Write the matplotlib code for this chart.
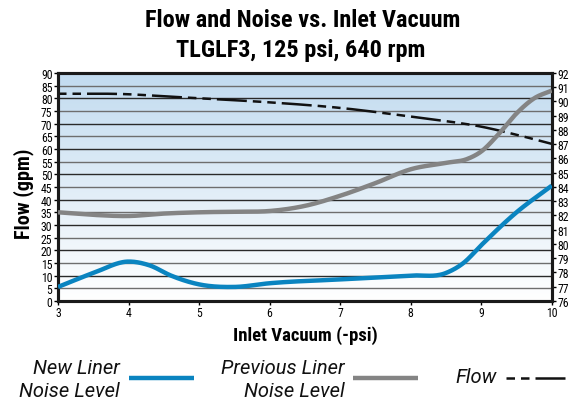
import numpy as np
import matplotlib
matplotlib.use("Agg")
import matplotlib.pyplot as plt
from matplotlib.lines import Line2D

# flow vs inlet vacuum (left axis, gpm)
flowVac = [3, 4, 4.5, 5, 6, 7, 8, 8.5, 9, 9.5, 10]
flowGpm = [81.8, 81.6, 80.8, 80.0, 78.4, 76.2, 72.8, 71.0, 68.8, 65.6, 62.0]

# noise vs inlet vacuum (right axis)
newVac = [3, 3.5, 4, 4.3, 4.6, 5, 5.5, 6, 7, 8, 8.5, 8.75, 9, 9.5, 10]
newNoise = [76.98, 77.96, 78.76, 78.49, 77.78, 77.16, 76.98, 77.24, 77.51, 77.78,
            77.96, 78.67, 79.91, 82.22, 84.09]

prevVac = [3, 3.5, 4, 4.5, 5, 5.5, 6, 6.5, 7, 7.5, 8, 8.5, 8.8, 9, 9.25, 9.5, 9.75, 10]
prevNoise = [82.22, 82.04, 81.96, 82.13, 82.22, 82.26, 82.31, 82.67, 83.38, 84.27,
             85.24, 85.69, 85.96, 86.49, 87.73, 89.16, 90.22, 90.76]

leftTicks = list(range(0, 91, 5))
rightTicks = list(range(76, 93))
xTicks = list(range(3, 11))

plt.rcParams['font.family'] = ['Roboto Condensed', 'DejaVu Sans']

BLUE = '#0a84c0'
GRAY = '#848484'
FLOW_DASH = (3.4, 2.4, 3.4, 2.4, 12, 2.4)
W, H = 579.0, 402.0


def smooth(xs, ys):
    # cubic hermite through the read points
    xs = np.asarray(xs, float)
    ys = np.asarray(ys, float)
    m = np.gradient(ys, xs)
    out_x = []
    out_y = []
    for i in range(len(xs) - 1):
        h = xs[i + 1] - xs[i]
        t = np.linspace(0, 1, 30, endpoint=False)
        h00 = 2 * t**3 - 3 * t**2 + 1
        h10 = t**3 - 2 * t**2 + t
        h01 = -2 * t**3 + 3 * t**2
        h11 = t**3 - t**2
        out_x.extend(xs[i] + t * h)
        out_y.extend(h00 * ys[i] + h10 * h * m[i] + h01 * ys[i + 1] + h11 * h * m[i + 1])
    out_x.append(xs[-1])
    out_y.append(ys[-1])
    return np.array(out_x), np.array(out_y)


fig = plt.figure(figsize=(5.79, 4.02), dpi=100)
ax = fig.add_axes([0.1002, 0.249, 0.8528, 0.567])
ax2 = ax.twinx()

# blue gradient background
grad = np.linspace(0, 1, 256).reshape(-1, 1, 1)
top = np.array([0.76, 0.86, 0.94])
bot = np.array([1.0, 1.0, 1.0])
img = bot + (top - bot) * grad
ax.imshow(img, extent=[3, 10, 0, 90], origin='lower', aspect='auto', zorder=0)

for v in leftTicks[1:-1]:
    c = '#2a2a2a' if v % 10 == 0 else '#6e6e6e'
    ax.axhline(v, color=c, linewidth=1.0, zorder=1)

ax.set_xlim(3, 10)
ax.set_ylim(0, 90)
ax2.set_ylim(76, 92)

fx, fy = smooth(flowVac, flowGpm)
ax.plot(fx, fy, color='#111111', linewidth=1.8, dashes=FLOW_DASH, zorder=3)

nx, ny = smooth(newVac, newNoise)
ax2.plot(nx, ny, color=BLUE, linewidth=3.2, solid_capstyle='butt', zorder=3)
px, py = smooth(prevVac, prevNoise)
ax2.plot(px, py, color=GRAY, linewidth=3.2, solid_capstyle='butt', zorder=3)

ax.set_xticks(xTicks)
ax.set_yticks(leftTicks)
ax2.set_yticks(rightTicks)
ax.tick_params(labelsize=8.5, length=3, width=1, pad=1)
ax2.tick_params(labelsize=8.5, length=3, width=1, pad=1)
for a in (ax, ax2):
    for s in a.spines.values():
        s.set_linewidth(2.2)
        s.set_color('#1a1a1a')

# axis titles
fig.text(24 / W, 1 - 194 / H, 'Flow (gpm)', rotation=90, ha='center', va='center',
         fontsize=14.5, fontweight='bold')
fig.text(305 / W, 1 - 341 / H, 'Inlet Vacuum (-psi)', ha='center', va='baseline',
         fontsize=13.5, fontweight='bold')
fig.text(303 / W, 1 - 27 / H, 'Flow and Noise vs. Inlet Vacuum', ha='center', va='baseline',
         fontsize=17.5, fontweight='bold')
fig.text(301 / W, 1 - 57 / H, 'TLGLF3, 125 psi, 640 rpm', ha='center', va='baseline',
         fontsize=17.5, fontweight='bold')

# legend drawn below the plot
legFont = dict(fontsize=14.5, style='italic', color='#111111', family=['Roboto', 'DejaVu Sans'])
fig.text(120 / W, 1 - 374 / H, 'New Liner', ha='right', va='baseline', **legFont)
fig.text(120 / W, 1 - 397 / H, 'Noise Level', ha='right', va='baseline', **legFont)
fig.text(345 / W, 1 - 374 / H, 'Previous Liner', ha='right', va='baseline', **legFont)
fig.text(345 / W, 1 - 397 / H, 'Noise Level', ha='right', va='baseline', **legFont)
fig.text(497 / W, 1 - 383 / H, 'Flow', ha='right', va='baseline', **legFont)

ly = 1 - 379 / H
fig.add_artist(Line2D([129 / W, 194 / W], [ly, ly], color=BLUE, linewidth=3.2,
                      solid_capstyle='butt'))
fig.add_artist(Line2D([353 / W, 418 / W], [ly, ly], color=GRAY, linewidth=3.2,
                      solid_capstyle='butt'))
fig.add_artist(Line2D([506 / W, 567 / W], [ly, ly], color='#111111', linewidth=1.8,
                      dashes=FLOW_DASH))

fig.savefig('out.png', dpi=100)
